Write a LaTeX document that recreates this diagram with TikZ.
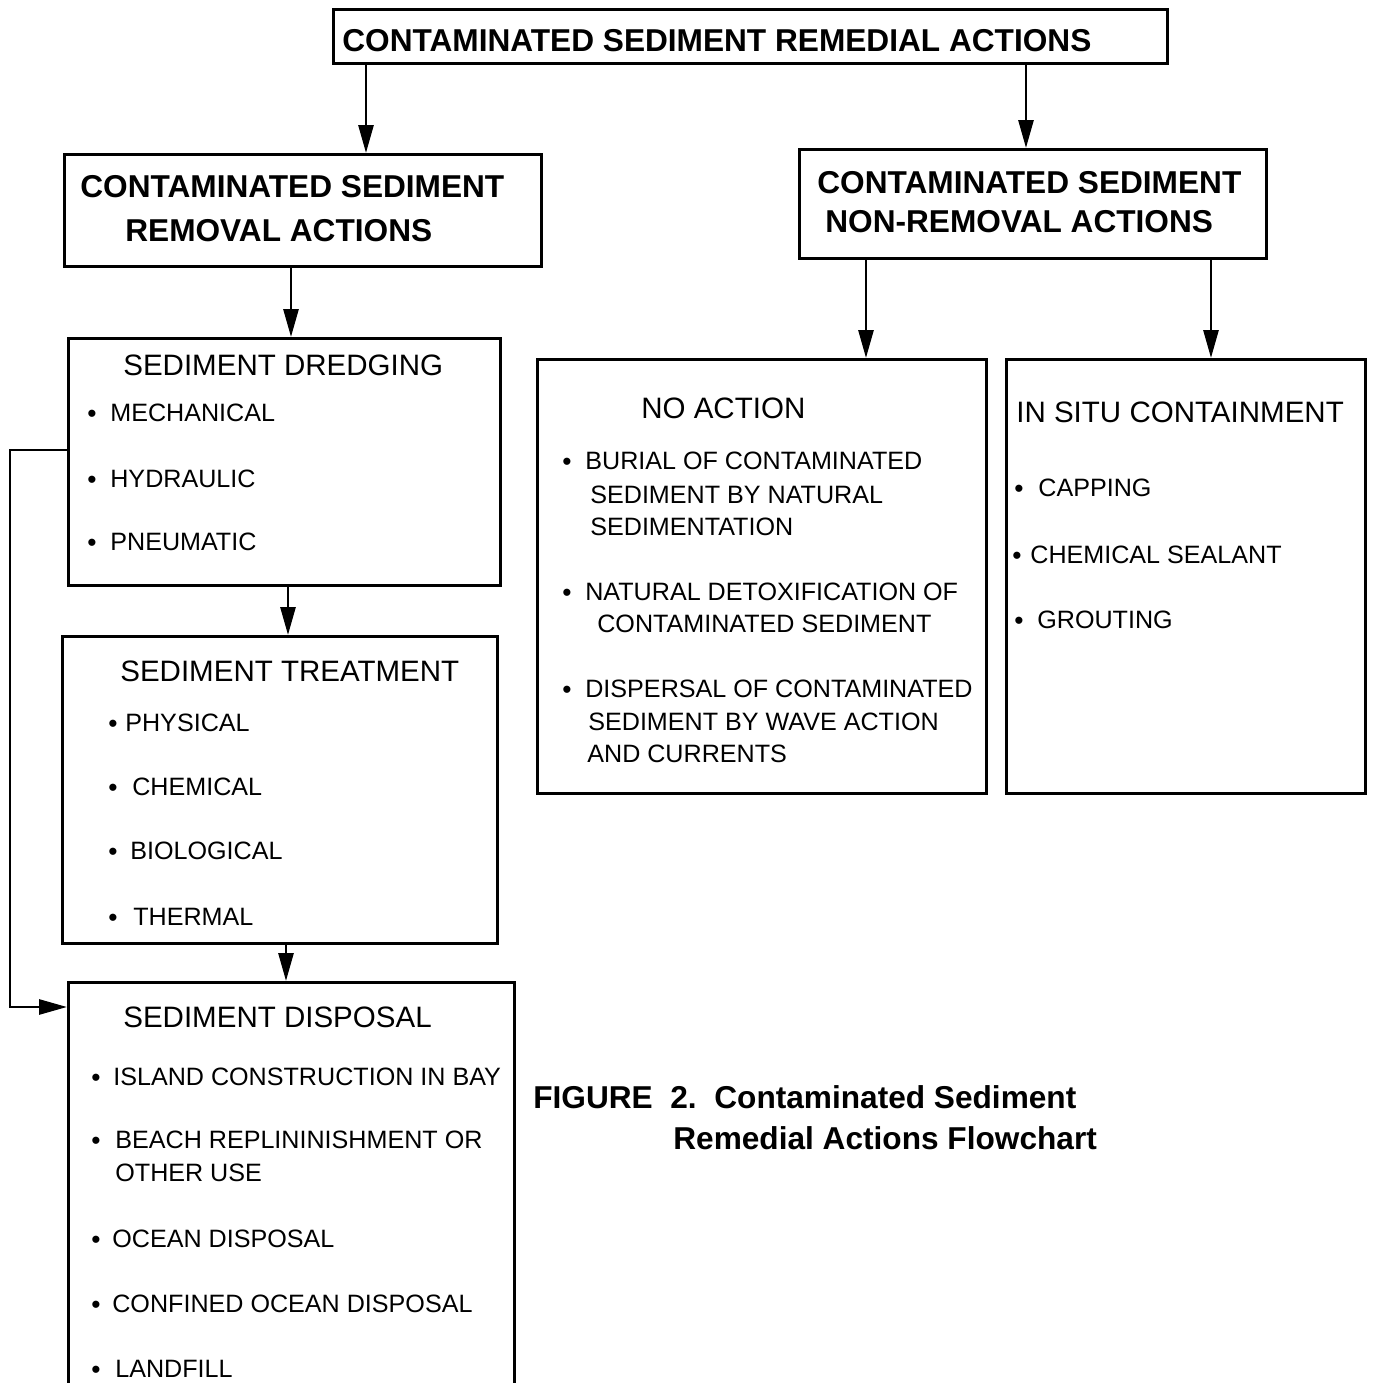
\documentclass[tikz,border=0pt]{standalone}
\usepackage{fontspec}
\setmainfont{Liberation Sans}
\usepackage{tikz}
\usetikzlibrary{arrows.meta}
\usetikzlibrary{calc}

\begin{document}
\begin{tikzpicture}[
		% one unit = one pixel of the scanned figure, y running downwards
		x=0.02cm, y=-0.02cm,
		line join=miter, >={Triangle[length=0.56cm, width=0.3cm]},
		box/.style={draw, line width=1.7pt, inner sep=0pt, anchor=north west},
		head/.style={inner sep=0pt, anchor=west, font=\bfseries\fontsize{18}{21}\selectfont},
		title/.style={inner sep=0pt, anchor=west, font=\fontsize{16.8}{20}\selectfont},
		entry/.style={inner sep=0pt, anchor=west, font=\fontsize{14.3}{17}\selectfont},
		dot/.style={inner sep=0pt, anchor=base, font=\fontsize{15}{17}\selectfont},
		arr/.style={->, line width=1.6pt}
	]

	\useasboundingbox (0,0) rectangle (1373,1383);
	\clip (0,0) rectangle (1373,1383);

	%-------------------
	% Boxes
	%-------------------
	\node[box, minimum width=16.68cm, minimum height=1.08cm] (top) at (332,8) {};
	\node[box, minimum width=9.54cm, minimum height=2.24cm] (removal) at (63,153) {};
	\node[box, minimum width=9.34cm, minimum height=2.18cm] (nonrem) at (798,148) {};
	\node[box, minimum width=8.64cm, minimum height=4.94cm] (dredge) at (67,337) {};
	\node[box, minimum width=8.70cm, minimum height=6.14cm] (treat) at (61,635) {};
	\node[box, minimum width=8.92cm, minimum height=8.78cm] (disposal) at (67,981) {};
	\node[box, minimum width=8.98cm, minimum height=8.68cm] (noaction) at (536,358) {};
	\node[box, minimum width=7.18cm, minimum height=8.68cm] (insitu) at (1005,358) {};

	%-------------------
	% Headings
	%-------------------
	\node[head] (toptxt) at (342,41) {CONTAMINATED SEDIMENT REMEDIAL ACTIONS};
	\node[head] (remtxt1) at (80,187) {CONTAMINATED SEDIMENT};
	\node[head] (remtxt2) at (125,231) {REMOVAL ACTIONS};
	\node[head] (nontxt1) at (817,183) {CONTAMINATED SEDIMENT};
	\node[head] (nontxt2) at (825,222) {NON-REMOVAL ACTIONS};

	\node[title] (drtitle) at (123,365) {SEDIMENT DREDGING};
	\node[title] (trtitle) at (120,671) {SEDIMENT TREATMENT};
	\node[title] (dstitle) at (123,1017) {SEDIMENT DISPOSAL};
	\node[title] (natitle) at (641,408) {NO ACTION};
	\node[title] (istitle) at (1016,412) {IN SITU CONTAINMENT};

	%-------------------
	% Bullet entries
	%-------------------
	\foreach \bx/\tx/\ty/\t [count=\i] in {
			92/110/413/MECHANICAL,
			92/110/479/HYDRAULIC,
			92/110/542/PNEUMATIC,
			113/125/723/PHYSICAL,
			113/132/787/CHEMICAL,
			113/130/851/BIOLOGICAL,
			113/133/917/THERMAL,
			96/113/1077/ISLAND CONSTRUCTION IN BAY,
			96/115/1140/BEACH REPLININISHMENT OR,
			96/112/1239/OCEAN DISPOSAL,
			96/112/1304/CONFINED OCEAN DISPOSAL,
			96/115/1369/LANDFILL,
			567/585/461/BURIAL OF CONTAMINATED,
			567/585/592/NATURAL DETOXIFICATION OF,
			567/585/689/DISPERSAL OF CONTAMINATED,
			1019/1038/488/CAPPING,
			1017/1030/555/CHEMICAL SEALANT,
			1019/1037/620/GROUTING
		}{
			\node[dot] (b\i) at (\bx,\ty+9) {•};
			\node[entry] (e\i) at (\tx,\ty) {\t};
		}

	% second lines of entries
	\foreach \tx/\ty/\t [count=\i] in {
			115/1173/OTHER USE,
			590/495/SEDIMENT BY NATURAL,
			590/527/SEDIMENTATION,
			597/624/CONTAMINATED SEDIMENT,
			588/722/SEDIMENT BY WAVE ACTION,
			587/754/AND CURRENTS
		}{
			\node[entry] (c\i) at (\tx,\ty) {\t};
		}

	%-------------------
	% Arrows
	%-------------------
	\draw[arr] (top.south -| 366,0) -- (removal.north -| 366,0);
	\draw[arr] (top.south -| 1026,0) -- (nonrem.north -| 1026,0);
	\draw[arr] (removal.south -| 291,0) -- (dredge.north -| 291,0);
	\draw[arr] (nonrem.south -| 866,0) -- (noaction.north -| 866,0);
	\draw[arr] (nonrem.south -| 1211,0) -- (insitu.north -| 1211,0);
	\draw[arr] (dredge.south -| 288,0) -- (treat.north -| 288,0);
	\draw[arr] (treat.south -| 286,0) -- (disposal.north -| 286,0);
	\draw[arr] (dredge.west |- 0,450) -- (10,450) |- (disposal.west |- 0,1007);

	%-------------------
	% Caption
	%-------------------
	\node[head] (cap1) at (533,1097) {FIGURE\ \ 2.\ \ Contaminated Sediment};
	\node[head] (cap2) at (673,1138) {Remedial Actions Flowchart};

\end{tikzpicture}
\end{document}
